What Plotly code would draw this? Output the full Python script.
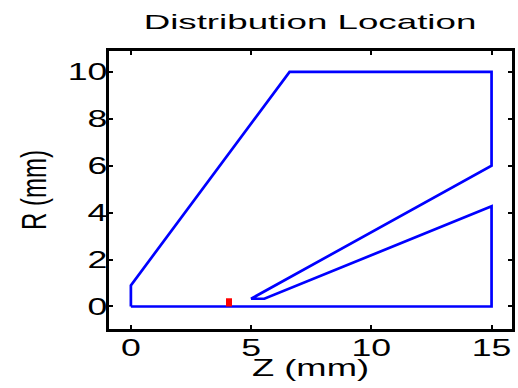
import plotly.graph_objects as go

# Outline of the device cross-section (Z along axis, R radial), in mm
z_outline = [0, 0, 6.6, 15, 15, 5.0, 5.55, 15, 15, 0]
r_outline = [0, 0.9, 10, 10, 6, 0.33, 0.33, 4.27, 0, 0]

# Location of the distribution (short radial segment)
z_dist = [4.08, 4.08]
r_dist = [0.0, 0.35]

x_ticks = [0, 5, 10, 15]
y_ticks = [0, 2, 4, 6, 8, 10]

FONT = "Liberation Sans, Arial, Helvetica, sans-serif"

fig = go.Figure()
fig.add_trace(go.Scatter(x=z_outline, y=r_outline, mode="lines",
                         line=dict(color="#0000ff", width=2.7),
                         showlegend=False, hoverinfo="skip"))
fig.add_trace(go.Scatter(x=z_dist, y=r_dist, mode="lines",
                         line=dict(color="#ff0000", width=6),
                         showlegend=False, hoverinfo="skip"))

axis_common = dict(
    showgrid=False, zeroline=False,
    showline=True, linecolor="black", linewidth=3, mirror="ticks",
    ticks="inside", ticklen=4, tickwidth=2, tickcolor="black",
    tickfont=dict(family=FONT, size=23, color="black"),
)

fig.update_layout(
    width=518, height=388,
    margin=dict(l=109, r=3, t=51, b=59),
    paper_bgcolor="white", plot_bgcolor="white",
    title=dict(text="Distribution Location", x=310 / 518, xanchor="center",
               y=1 - 21.5 / 388, yanchor="middle", yref="container",
               font=dict(family=FONT, size=21, color="black")),
    xaxis=dict(range=[-0.91, 15.85], tickvals=x_ticks, ticklabelstandoff=-4,
               title=dict(text="Z (mm)", standoff=1,
                          font=dict(family=FONT, size=23, color="black")),
               **axis_common),
    yaxis=dict(range=[-0.96, 10.89], tickvals=y_ticks, ticklabelstandoff=-6,
               title=dict(text="R (mm)", standoff=33,
                          font=dict(family=FONT, size=24, color="black")),
               **axis_common),
)

# Widen the lettering horizontally about each label's anchor point
post = """
var gd = document.getElementById('{plot_id}');
function widen(sel, sx) {
  gd.querySelectorAll(sel).forEach(function (t) {
    var svg = t.ownerSVGElement;
    var s = svg.getBoundingClientRect();
    var r = t.getBoundingClientRect();
    var a = t.getAttribute('text-anchor') || 'start';
    var cx = a === 'end' ? r.right : (a === 'middle' ? (r.left + r.right) / 2 : r.left);
    cx -= s.left;
    var m = t.parentNode.getCTM();
    var lx = (cx - m.e) / m.a;
    var old = t.getAttribute('transform') || '';
    t.setAttribute('transform', 'translate(' + lx + ',0) scale(' + sx + ',1) translate(' + (-lx) + ',0) ' + old);
  });
}
widen('.gtitle', 1.75);
widen('.xtick text', 1.55);
widen('.ytick text', 1.55);
widen('.xtitle', 1.58);
widen('.ytitle', 1.45);
"""

fig.write_html("out.html", post_script=post)
